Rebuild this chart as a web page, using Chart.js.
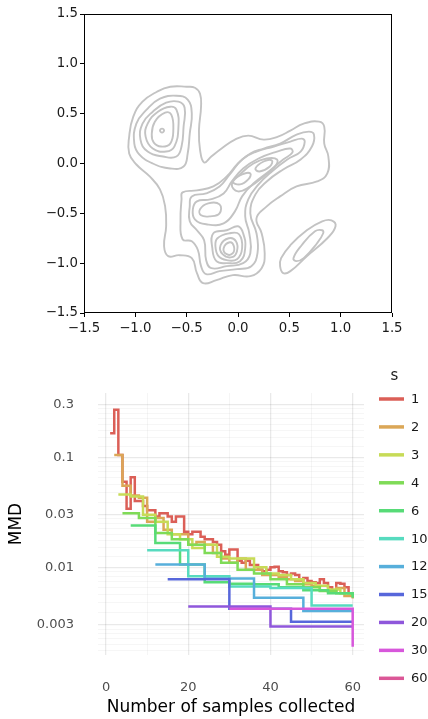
<!DOCTYPE html>
<html>
<head>
<meta charset="utf-8">
<script src="https://cdn.jsdelivr.net/npm/chart.js@4.4.1/dist/chart.umd.min.js"></script>
<style>
  body { margin: 0; background: #fff; }
  #wrap { position: relative; width: 428px; height: 719px; }
  canvas { position: absolute; left: 0; }
  #kde { top: 0; }
  #mmd { top: 340px; }
</style>
</head>
<body>
<div id="wrap">
  <canvas id="kde" width="428" height="340"></canvas>
  <canvas id="mmd" width="428" height="379"></canvas>
</div>
<script>
// ---- top panel: density contours as [x, y] points ----
const kdeTicks = [-1.5, -1.0, -0.5, 0.0, 0.5, 1.0, 1.5];

const outerContour = [[-0.50,0.77],[-0.66,0.77],[-0.79,0.72],[-0.93,0.62],[-1.02,0.47],[-1.06,0.27],[-1.06,0.10],[-0.99,-0.01],[-0.86,-0.13],[-0.76,-0.26],[-0.71,-0.43],[-0.70,-0.63],[-0.72,-0.83],[-0.68,-0.93],[-0.57,-0.92],[-0.45,-0.95],[-0.40,-1.10],[-0.34,-1.20],[-0.21,-1.17],[-0.05,-1.12],[0.12,-1.13],[0.23,-1.05],[0.26,-0.90],[0.23,-0.70],[0.18,-0.55],[0.28,-0.43],[0.41,-0.33],[0.57,-0.23],[0.77,-0.18],[0.87,-0.10],[0.88,0.07],[0.84,0.20],[0.84,0.37],[0.79,0.42],[0.64,0.40],[0.51,0.33],[0.39,0.27],[0.25,0.24],[0.10,0.28],[-0.03,0.24],[-0.16,0.15],[-0.26,0.07],[-0.33,0.01],[-0.37,0.14],[-0.38,0.34],[-0.36,0.57],[-0.37,0.70],[-0.42,0.76]];
const ellipseOuter = [[0.41,-1.03],[0.44,-1.10],[0.51,-1.08],[0.67,-0.93],[0.87,-0.75],[0.95,-0.63],[0.91,-0.57],[0.82,-0.58],[0.67,-0.67],[0.51,-0.82],[0.42,-0.95]];
const ellipseInner = [[0.54,-0.95],[0.57,-0.98],[0.64,-0.95],[0.77,-0.80],[0.83,-0.70],[0.82,-0.67],[0.75,-0.68],[0.62,-0.82]];
const lobe2 = [[-1.01,0.20],[-0.99,0.40],[-0.89,0.54],[-0.76,0.65],[-0.60,0.68],[-0.49,0.64],[-0.45,0.50],[-0.47,0.30],[-0.49,0.10],[-0.53,-0.03],[-0.66,-0.05],[-0.83,0.00],[-0.96,0.09]];
const lobe3 = [[-0.95,0.24],[-0.93,0.40],[-0.83,0.52],[-0.70,0.61],[-0.58,0.62],[-0.52,0.56],[-0.53,0.37],[-0.55,0.17],[-0.60,0.07],[-0.73,0.07],[-0.88,0.12]];
const lobe4 = [[-0.90,0.27],[-0.88,0.40],[-0.78,0.52],[-0.66,0.57],[-0.60,0.54],[-0.58,0.37],[-0.62,0.17],[-0.70,0.12],[-0.83,0.15]];
const lobe5 = [[-0.84,0.29],[-0.81,0.42],[-0.71,0.51],[-0.65,0.49],[-0.63,0.34],[-0.66,0.20],[-0.75,0.17],[-0.82,0.21]];
const lobePeak = [[-0.76,0.33],[-0.74,0.35],[-0.72,0.33],[-0.74,0.31]];
const middle2 = [[-0.54,-0.29],[-0.40,-0.27],[-0.24,-0.23],[-0.11,-0.13],[0.00,0.00],[0.12,0.10],[0.25,0.15],[0.41,0.20],[0.57,0.29],[0.69,0.32],[0.74,0.29],[0.72,0.17],[0.61,0.04],[0.44,-0.06],[0.28,-0.18],[0.17,-0.31],[0.12,-0.50],[0.18,-0.70],[0.19,-0.90],[0.13,-1.03],[-0.01,-1.06],[-0.18,-1.08],[-0.31,-1.11],[-0.36,-1.03],[-0.39,-0.87],[-0.45,-0.78],[-0.54,-0.76],[-0.56,-0.57],[-0.55,-0.36]];
const middle3 = [[-0.45,-0.33],[-0.31,-0.30],[-0.18,-0.23],[-0.08,-0.11],[0.04,0.04],[0.18,0.12],[0.35,0.17],[0.51,0.22],[0.62,0.25],[0.65,0.22],[0.61,0.12],[0.48,0.04],[0.33,-0.08],[0.20,-0.21],[0.10,-0.36],[0.07,-0.53],[0.11,-0.70],[0.12,-0.90],[0.05,-1.00],[-0.11,-1.03],[-0.26,-1.05],[-0.31,-0.97],[-0.33,-0.77],[-0.40,-0.67],[-0.47,-0.58],[-0.47,-0.43]];
const ridge4 = [[-0.40,-0.38],[-0.27,-0.36],[-0.14,-0.30],[-0.06,-0.18],[0.05,-0.05],[0.20,0.05],[0.38,0.12],[0.51,0.15],[0.53,0.11],[0.44,0.04],[0.30,-0.08],[0.15,-0.20],[0.04,-0.33],[-0.03,-0.48],[-0.14,-0.60],[-0.31,-0.61],[-0.42,-0.56],[-0.44,-0.46]];
const ridge5 = [[-0.06,-0.21],[0.02,-0.11],[0.15,0.00],[0.28,0.05],[0.38,0.04],[0.36,-0.03],[0.25,-0.13],[0.12,-0.23],[0.00,-0.28]];
const ridgeUpper = [[0.17,-0.05],[0.25,0.02],[0.33,0.03],[0.31,-0.03],[0.21,-0.08]];
const ridgeLower = [[-0.05,-0.18],[0.04,-0.11],[0.12,-0.10],[0.10,-0.16],[0.02,-0.21]];
const leftMiddle = [[-0.37,-0.46],[-0.29,-0.40],[-0.18,-0.41],[-0.18,-0.50],[-0.27,-0.53],[-0.36,-0.52]];
const lower4 = [[-0.24,-0.70],[-0.11,-0.67],[0.00,-0.63],[0.05,-0.70],[0.07,-0.85],[0.02,-0.98],[-0.11,-1.00],[-0.21,-0.98],[-0.25,-0.85]];
const lower5 = [[-0.20,-0.75],[-0.08,-0.70],[0.01,-0.71],[0.04,-0.85],[-0.01,-0.96],[-0.11,-0.97],[-0.19,-0.93],[-0.22,-0.83]];
const lower6 = [[-0.17,-0.82],[-0.09,-0.75],[-0.02,-0.78],[-0.01,-0.88],[-0.06,-0.94],[-0.15,-0.91]];
const lower7 = [[-0.14,-0.85],[-0.08,-0.79],[-0.04,-0.83],[-0.05,-0.90],[-0.11,-0.91]];

const contours = [outerContour, ellipseOuter, ellipseInner, lobe2, lobe3, lobe4, lobe5, lobePeak,
  middle2, middle3, ridge4, ridge5, ridgeUpper, ridgeLower, leftMiddle, lower4, lower5, lower6, lower7];

// ---- bottom panel: MMD after every s samples ----
const samples = [1,2,3,4,5,6,7,8,9,10,11,12,13,14,15,16,17,18,19,20,21,22,23,24,25,26,27,28,29,30,
  31,32,33,34,35,36,37,38,39,40,41,42,43,44,45,46,47,48,49,50,51,52,53,54,55,56,57,58,59,60];
const sLevels = [1, 2, 3, 4, 6, 10, 12, 15, 20, 30, 60];

const mmdS1 = [0.165,0.27,0.105,0.06,0.034,0.066,0.04,0.04,0.036,0.033,0.033,0.029,0.031,0.031,0.029,0.026,0.029,0.029,0.021,0.02,
  0.021,0.021,0.019,0.018,0.018,0.017,0.016,0.014,0.013,0.0145,0.0145,0.0115,0.011,0.0115,0.0105,0.0105,0.0095,0.0092,0.0095,0.01,
  0.0101,0.0092,0.009,0.0085,0.0088,0.0085,0.0078,0.008,0.0075,0.0073,0.0072,0.0078,0.0072,0.0066,0.0062,0.0072,0.0071,0.0066,0.0058,0.0056];
const mmdS2 = [0.105,0.055,0.045,0.043,0.026,0.028,0.022,0.02,0.02,0.016,0.017,0.016,0.0135,0.012,0.011,
  0.012,0.0095,0.0095,0.0085,0.0085,0.0082,0.0078,0.0075,0.007,0.0068,0.0062,0.006,0.0065,0.0055,0.0052];
const mmdS3 = [0.046,0.044,0.03,0.026,0.02,0.018,0.015,0.016,0.0125,0.012,0.012,0.01,0.0088,0.0085,0.0078,0.0072,0.0068,0.0063,0.0058,0.0055];
const mmdS4 = [0.031,0.028,0.0205,0.018,0.016,0.0135,0.011,0.0095,0.0088,0.0078,0.007,0.0066,0.0061,0.0058,0.0054];
const mmdS6 = [0.024,0.0166,0.0106,0.0073,0.0071,0.007,0.0066,0.0062,0.0058,0.0053];
const mmdS10 = [0.0143,0.0083,0.0067,0.0065,0.0045,0.0045];
const mmdS12 = [0.0106,0.0079,0.0053,0.004,0.004];
const mmdS15 = [0.0078,0.0042,0.0032,0.0032];
const mmdS20 = [0.0044,0.0029,0.0029];
const mmdS30 = [0.0042,0.0019];
const mmdS60 = [0.0042];
const mmdBySize = [mmdS1, mmdS2, mmdS3, mmdS4, mmdS6, mmdS10, mmdS12, mmdS15, mmdS20, mmdS30, mmdS60];

const xMajor = [0, 20, 40, 60];
const xMinor = [10, 30, 50];
const yMajor = [0.003, 0.01, 0.03, 0.1, 0.3];
const yLabels = ['0.003', '0.01', '0.03', '0.1', '0.3'];

const palette = ['#db5f57', '#dba757', '#c7db57', '#7fdb57', '#57db77', '#57dbbf', '#57afdb', '#5767db', '#8f57db', '#d757db', '#db5797'];

Chart.defaults.font.family = "'DejaVu Sans', sans-serif";
Chart.defaults.animation = false;

// ---------- top chart ----------
const contourGray = '#c3c3c3';

function closedLoop(pts) {
  // wrap the ring so the spline is smooth all the way round; the two extra ends are hidden
  const n = pts.length;
  return [pts[n - 1], ...pts, pts[0], pts[1]].map(p => ({x: p[0], y: p[1]}));
}

const hideEnds = c => {
  const n = c.chart.data.datasets[c.datasetIndex].data.length;
  return (c.p0DataIndex === 0 || c.p1DataIndex === n - 1) ? 'rgba(0,0,0,0)' : contourGray;
};

const minusFmt = v => (v < 0 ? '\u2212' : '') + Math.abs(v).toFixed(1);

const frame = {
  id: 'frame',
  afterDraw(chart) {
    const {ctx, chartArea: a} = chart;
    ctx.save();
    ctx.strokeStyle = '#000';
    ctx.lineWidth = 1;
    ctx.strokeRect(a.left + 0.5, a.top + 0.5, a.right - a.left - 1, a.bottom - a.top - 1);
    ctx.restore();
  }
};

const kdeAxis = (fit, pad) => ({
  type: 'linear',
  min: -1.5,
  max: 1.5,
  afterBuildTicks: s => { s.ticks = kdeTicks.map(v => ({value: v})); },
  afterFit: fit,
  ticks: { callback: minusFmt, color: '#1a1a1a', font: {size: 13.3}, padding: pad, autoSkip: false, maxRotation: 0 },
  grid: { drawOnChartArea: false, drawTicks: true, tickLength: 4, color: '#000' },
  border: { display: false }
});

new Chart(document.getElementById('kde'), {
  type: 'scatter',
  data: {
    datasets: contours.map(c => ({
      data: closedLoop(c),
      showLine: true,
      borderColor: contourGray,
      borderWidth: 1.9,
      pointRadius: 0,
      tension: 0.45,
      segment: { borderColor: hideEnds }
    }))
  },
  options: {
    responsive: false,
    devicePixelRatio: 1,
    events: [],
    layout: { padding: {top: 14, right: 36, left: 0, bottom: 0} },
    plugins: { legend: {display: false}, tooltip: {enabled: false} },
    scales: {
      x: kdeAxis(s => { s.height = 27; }, 4),
      y: kdeAxis(s => { s.width = 84; }, 2)
    }
  },
  plugins: [frame]
});

// ---------- bottom chart ----------
const yMin = 0.001596, yMax = 0.3841;
const yAll = [0.001, ...yMajor, 1];
const yTicks = [];
for (let i = 0; i < yAll.length - 1; i++) {
  for (let k = 0; k < 8; k++) {
    const v = yAll[i] + (yAll[i + 1] - yAll[i]) * k / 8;
    if (v >= yMin && v <= yMax) yTicks.push(v);
  }
}
const isMajorY = v => yMajor.some(m => Math.abs(m - v) < m * 1e-6);

const mmdSets = sLevels.map((s, i) => {
  const xs = samples.filter(n => n % s === 0);
  return {
    label: String(s),
    data: xs.map((n, k) => ({x: n, y: mmdBySize[i][k]})),
    borderColor: palette[i],
    borderWidth: 2.5,
    pointRadius: 0,
    stepped: 'before',
    fill: false,
    order: sLevels.length - i
  };
});

const sLegend = {
  id: 'sLegend',
  afterDraw(chart) {
    const ctx = chart.ctx;
    ctx.save();
    ctx.fillStyle = '#1a1a1a';
    ctx.textBaseline = 'middle';
    ctx.font = "15px 'DejaVu Sans'";
    ctx.fillText('s', 390.5, 36.5);
    ctx.font = "13px 'DejaVu Sans'";
    chart.data.datasets.forEach((ds, i) => {
      const y = 59 + i * 27.93;
      ctx.strokeStyle = ds.borderColor;
      ctx.lineWidth = 3.5;
      ctx.beginPath();
      ctx.moveTo(379, y);
      ctx.lineTo(404, y);
      ctx.stroke();
      ctx.fillText(ds.label, 411, y + 0.5);
    });
    ctx.restore();
  }
};

new Chart(document.getElementById('mmd'), {
  type: 'line',
  data: { datasets: mmdSets },
  options: {
    responsive: false,
    devicePixelRatio: 1,
    events: [],
    layout: { padding: {top: 53, right: 64, left: 0, bottom: 0} },
    plugins: { legend: {display: false}, tooltip: {enabled: false} },
    scales: {
      x: {
        type: 'linear',
        min: -1.95,
        max: 62.75,
        afterBuildTicks: s => { s.ticks = [...xMajor, ...xMinor].sort((a, b) => a - b).map(v => ({value: v})); },
        afterFit: s => { s.height = 64; },
        ticks: {
          callback: v => xMajor.includes(v) ? String(v) : '',
          color: '#4d4d4d', font: {size: 13}, padding: 25, autoSkip: false, maxRotation: 0
        },
        grid: {
          drawTicks: false,
          color: c => xMajor.includes(c.tick.value) ? 'rgba(0,0,0,0.085)' : 'rgba(0,0,0,0.04)',
          lineWidth: c => xMajor.includes(c.tick.value) ? 1.3 : 1
        },
        border: { display: false },
        title: { display: true, text: 'Number of samples collected', color: '#000', font: {size: 17}, padding: {top: 0, bottom: 1} }
      },
      y: {
        type: 'logarithmic',
        min: yMin,
        max: yMax,
        afterBuildTicks: s => { s.ticks = yTicks.map(v => ({value: v})); },
        afterFit: s => { s.width = 98; },
        ticks: {
          callback: v => { const i = yMajor.findIndex(m => Math.abs(m - v) < m * 1e-6); return i >= 0 ? yLabels[i] : ''; },
          color: '#4d4d4d', font: {size: 13}, padding: 24, autoSkip: false
        },
        grid: {
          drawTicks: false,
          color: c => isMajorY(c.tick.value) ? 'rgba(0,0,0,0.085)' : 'rgba(0,0,0,0.035)',
          lineWidth: c => isMajorY(c.tick.value) ? 1.3 : 1
        },
        border: { display: false },
        title: { display: true, text: 'MMD', color: '#000', font: {size: 17}, padding: {top: 6, bottom: 0} }
      }
    }
  },
  plugins: [sLegend]
});
</script>
</body>
</html>
